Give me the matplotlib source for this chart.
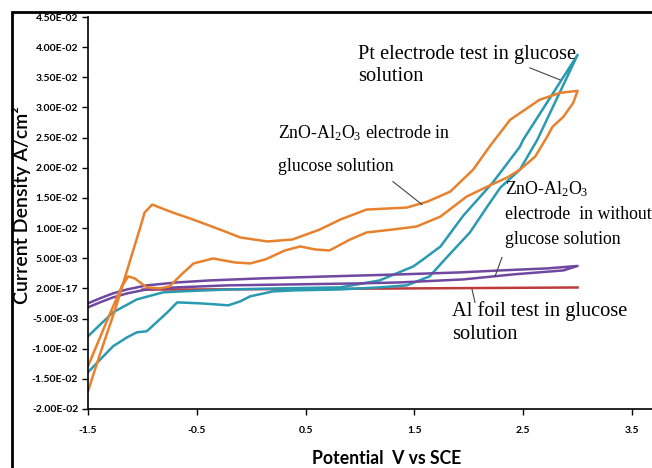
import matplotlib
matplotlib.use("Agg")
import matplotlib.pyplot as plt
from matplotlib.patches import Rectangle

plt.rcParams['mathtext.fontset'] = 'custom'
plt.rcParams['mathtext.rm'] = 'Liberation Serif'
plt.rcParams['mathtext.it'] = 'Liberation Serif'

# ZnO-Al2O3 electrode in glucose (forward scan then return)
zno_v = [-1.50, -1.39, -1.25, -1.11, -1.02, -0.98, -0.91, -0.84, -0.72, -0.56, -0.41, -0.24,
         -0.10, 0.15, 0.38, 0.63, 0.82, 1.06, 1.43, 1.62, 1.83, 2.04, 2.19, 2.38, 2.65, 2.84, 3.00,
         2.96, 2.87, 2.77, 2.72, 2.61, 2.47, 2.35, 2.17, 1.98, 1.74, 1.52, 1.30, 1.06, 0.91, 0.72,
         0.59, 0.45, 0.31, 0.13, -0.01, -0.15, -0.35, -0.53, -0.65, -0.75, -0.84, -0.96, -1.07,
         -1.13, -1.19, -1.32, -1.50]
zno_i = [-0.01704, -0.01092, -0.00347, 0.00480, 0.01009, 0.01257, 0.01390, 0.01340, 0.01257,
         0.01158, 0.01059, 0.00943, 0.00844, 0.00778, 0.00811, 0.00976, 0.01142, 0.01307, 0.01340,
         0.01439, 0.01605, 0.01969, 0.02349, 0.02796, 0.03127, 0.03243, 0.03276,
         0.03077, 0.02846, 0.02680, 0.02515, 0.02184, 0.01969, 0.01836, 0.01688, 0.01522, 0.01191,
         0.01026, 0.00976, 0.00927, 0.00811, 0.00629, 0.00645, 0.00695, 0.00629, 0.00480, 0.00414,
         0.00430, 0.00496, 0.00414, 0.00215, 0.00033, 0.0, 0.00017, 0.00165, 0.00199, 0.00033,
         -0.00513, -0.01290]

# Pt electrode in glucose
pt_v = [-1.50, -1.27, -1.14, -1.05, -0.96, -0.87, -0.77, -0.68, -0.47, -0.33, -0.21, -0.10,
        -0.01, 0.20, 0.40, 0.82, 1.18, 1.43, 1.64, 1.78, 2.01, 2.17, 2.29, 2.47, 2.63, 3.00,
        2.50, 2.47, 2.22, 1.95, 1.74, 1.58, 1.49, 1.18, 0.82, 0.26, -0.19, -0.65, -0.81, -1.05,
        -1.27, -1.50]
pt_i = [-0.01390, -0.00960, -0.00811, -0.00728, -0.00711, -0.00563, -0.00397, -0.00232,
        -0.00248, -0.00265, -0.00281, -0.00215, -0.00132, -0.00050, -0.00033, -0.00017, 0.00017,
        0.00050, 0.00199, 0.00480, 0.00927, 0.01357, 0.01671, 0.01969, 0.02465, 0.03872,
        0.02465, 0.02349, 0.01754, 0.01208, 0.00695, 0.00480, 0.00364, 0.00132, 0.00017, 0.0,
        -0.00017, -0.00050, -0.00066, -0.00182, -0.00397, -0.00794]

# ZnO-Al2O3 electrode without glucose
blank_v = [-1.50, -1.39, -1.27, -1.14, -0.96, -0.68, -0.38, 0.08, 0.72, 1.37, 1.92, 2.29, 2.72, 3.00,
           2.87, 2.41, 1.95, 1.37, 1.00, 0.38, -0.22, -0.68, -0.96, -1.14, -1.27, -1.39, -1.50]
blank_i = [-0.00248, -0.00165, -0.00083, -0.00017, 0.00050, 0.00099, 0.00132, 0.00165, 0.00199,
           0.00232, 0.00265, 0.00298, 0.00331, 0.00372,
           0.00298, 0.00232, 0.00149, 0.00099, 0.00083, 0.00066, 0.00050, 0.00017, -0.00017,
           -0.00083, -0.00149, -0.00232, -0.00314]

# Al foil in glucose
al_v = [-1.00, -0.50, 0.50, 1.50, 2.50, 3.00]
al_i = [-0.00020, -0.00018, -0.00010, 0.0, 0.00010, 0.00015]

yticks = [-0.02, -0.015, -0.01, -0.005, 0.0, 0.005, 0.01, 0.015, 0.02, 0.025, 0.03, 0.035, 0.04, 0.045]
ytick_labels = ['-2.00E-02', '-1.50E-02', '-1.00E-02', '-5.00E-03', '2.00E-17', '5.00E-03',
                '1.00E-02', '1.50E-02', '2.00E-02', '2.50E-02', '3.00E-02', '3.50E-02',
                '4.00E-02', '4.50E-02']
xticks = [-1.5, -0.5, 0.5, 1.5, 2.5, 3.5]
xtick_labels = ['-1.5', '-0.5', '0.5', '1.5', '2.5', '3.5']

fig = plt.figure(figsize=(6.52, 4.68), dpi=100)
ax = fig.add_axes([88 / 652, 1 - 409 / 468, 564 / 652, 392 / 468])

ax.plot(al_v, al_i, color='#BE3B3B', lw=1.8)
ax.plot(pt_v, pt_i, color='#2A9AB2', lw=1.8)
ax.plot(blank_v, blank_i, color='#7048A0', lw=1.8)
ax.plot(zno_v, zno_i, color='#E8812E', lw=1.8)

ax.set_xlim(-1.5, 3.684)
ax.set_ylim(-0.02, 0.045)
ax.set_xticks(xticks)
ax.set_xticklabels(xtick_labels)
ax.set_yticks(yticks)
ax.set_yticklabels(ytick_labels)
for lab in ax.get_xticklabels() + ax.get_yticklabels():
    lab.set_fontfamily('Lato')
    lab.set_fontweight('bold')
    lab.set_fontsize(7.5)
ax.tick_params(direction='out', length=4, width=1, pad=3)
ax.tick_params(axis='x', pad=8)
ax.spines['top'].set_visible(False)
ax.spines['right'].set_visible(False)
for s in ('left', 'bottom'):
    ax.spines[s].set_linewidth(1.2)
    ax.spines[s].set_color('black')

fig.text(22 / 652, 1 - 205 / 468, 'Current Density A/cm²', rotation=90, ha='center', va='center',
         fontsize=14, family='Lato', fontweight='semibold')
fig.text(387 / 652, 1 - 458 / 468, 'Potential  V vs SCE', ha='center', va='center',
         fontsize=12.7, family='Lato', fontweight='bold')

# chart-area border
fig.patches.append(Rectangle((12 / 652, -0.05), 1.1, 1 - 12 / 468 + 0.05, transform=fig.transFigure,
                             fill=False, edgecolor='black', lw=2))

big = dict(family='Liberation Serif', fontsize=14.7, va='center', ha='left', clip_on=False)
small = dict(family='Liberation Serif', fontsize=12.8, va='center', ha='left', clip_on=False)
ax.text(0.98, 0.0387, 'Pt electrode test in glucose', **big)
ax.text(0.98, 0.0351, 'solution', **big)
ax.text(0.246, 0.0258, r'ZnO-Al$_2$O$_3$ electrode in', **small)
ax.text(0.246, 0.0202, 'glucose solution', **small)
ax.text(2.33, 0.0164, r'ZnO-Al$_2$O$_3$', **small)
ax.text(2.33, 0.0122, 'electrode  in without', **small)
ax.text(2.33, 0.0081, 'glucose solution', **small)
ax.text(1.846, -0.0038, 'Al foil test in glucose', **big)
ax.text(1.846, -0.0076, 'solution', **big)

# leader lines
for (x0, y0), (x1, y1) in [((2.562, 0.03656), (2.838, 0.03458)),
                           ((1.303, 0.01770), (1.57, 0.01390)),
                           ((2.305, 0.00513), (2.241, 0.00199)),
                           ((2.03, -0.00017), (2.057, -0.00232))]:
    ax.plot([x0, x1], [y0, y1], color='#444444', lw=0.8)

fig.savefig('out.png', dpi=100)
